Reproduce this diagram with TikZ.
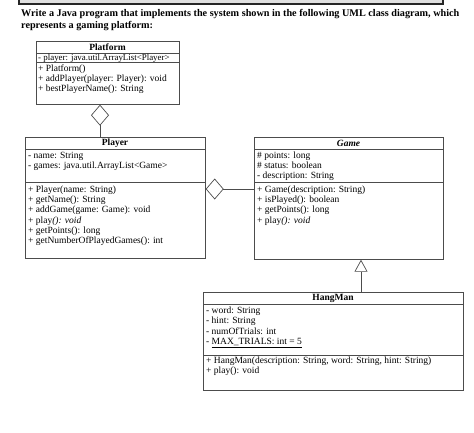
\documentclass[tikz,border=0pt]{standalone}
\usepackage{fontspec}
\setmainfont{Liberation Serif}
\usetikzlibrary{arrows.meta}
\usetikzlibrary{positioning}
\tikzset{
% Class boxes, their rows and the two kinds of relation
class box/.style={draw=black!70,line width=0.7,inner sep=0,anchor=north west},
class rule/.style={draw=black!70,line width=0.7},
class name/.style={inner sep=0,font=\fontsize{9.5}{10}\selectfont\bfseries},
member/.style={anchor=base west,inner sep=0,font=\fontsize{9.5}{10}\selectfont},
has many/.style={draw=black!70,line width=0.7,-{Diamond[open,length=#1]}},
is a/.style={draw=black!70,line width=0.7,-{Triangle[open,length=12,width=13]}}
}

\begin{document}
\begin{tikzpicture}[x=1pt,y=-1pt]
		\useasboundingbox (0,0) rectangle (474,432);
		% Task bar and text
		\filldraw[fill=black!12,draw=black!85,line width=1.6](19,-6)rectangle(443,4);
		\node[anchor=base west,inner sep=0,font=\fontsize{10.2}{12}\selectfont\bfseries](task1)at(21,16){Write a Java program that implements the system shown in the following UML class diagram, which};
		\node[anchor=base west,inner sep=0,font=\fontsize{10.2}{12}\selectfont\bfseries](task2)at(21,28){represents a gaming platform:};
		% Platform
		\node[class box,minimum width=143,minimum height=63](platform)at(36,41){};
		\node[class name](platform-name)at(107.5,47){Platform};
		\coordinate(y-53)at(0,53);\coordinate(y-62)at(0,62);
		\draw[class rule](platform.west|-y-53)--(platform.east|-y-53);
		\draw[class rule](platform.west|-y-62)--(platform.east|-y-62);
		\node[member,font=\fontsize{8.9}{10}\selectfont]at(38,60.5){- player: java.util.ArrayList<Player>};
		\foreach \y/\t in {71/{+ Platform()},81/{+ addPlayer(player: Player): void},91/{+ bestPlayerName(): String}}
			\node[member]at(38,\y){\t};
		% Player
		\node[class box,minimum width=180,minimum height=121](player)at(25,137){};
		\node[class name](player-name)at(115,143){Player};
		\coordinate(y-149)at(0,149);\coordinate(y-182)at(0,182);
		\draw[class rule](player.west|-y-149)--(player.east|-y-149);
		\draw[class rule](player.west|-y-182)--(player.east|-y-182);
		\foreach \y/\t in {158/{- name: String},168/{- games: java.util.ArrayList<Game>},
			192/{+ Player(name: String)},202/{+ getName(): String},212.5/{+ addGame(game: Game): void},
			223/{+ play\textit{(): void}},233/{+ getPoints(): long},243/{+ getNumberOfPlayedGames(): int}}
			\node[member]at(28,\y){\t};
		% Game
		\node[class box,minimum width=189,minimum height=122](game)at(254,137){};
		\node[class name](game-name)at(348.5,143){\textit{Game}};
		\draw[class rule](game.west|-y-149)--(game.east|-y-149);
		\draw[class rule](game.west|-y-182)--(game.east|-y-182);
		\foreach \y/\t in {158/{\# points: long},168/{\# status: boolean},178.5/{- description: String},
			192/{+ Game(description: String)},202/{+ isPlayed(): boolean},212.5/{+ getPoints(): long},
			223/{+ play\textit{(): void}}}
			\node[member]at(257,\y){\t};
		% HangMan
		\node[class box,minimum width=260,minimum height=98](hangman)at(203,292){};
		\node[class name](hangman-name)at(333,298){HangMan};
		\coordinate(y-304)at(0,304);\coordinate(y-355)at(0,355);
		\draw[class rule](hangman.west|-y-304)--(hangman.east|-y-304);
		\draw[class rule](hangman.west|-y-355)--(hangman.east|-y-355);
		\foreach \y/\t in {313/{- word: String},323.5/{- hint: String},334/{- numOfTrials: int},
			344.5/{- \underline{MAX\_TRIALS: int = 5}},
			363/{+ HangMan(description: String, word: String, hint: String)},373/{+ play(): void}}
			\node[member]at(206,\y){\t};
		% Relations
		\coordinate(platform-end)at(100,0);
		\coordinate(game-end)at(361,0);
		\coordinate(y-189)at(0,189);
		\draw[has many={21,width=18}](player.north-|platform-end)--(platform.south-|platform-end);
		\draw[has many={18,width=21}](game.west|-y-189)--(player.east|-y-189);
		\draw[is a](hangman.north-|game-end)--(game.south-|game-end);
	\end{tikzpicture}
\end{document}
